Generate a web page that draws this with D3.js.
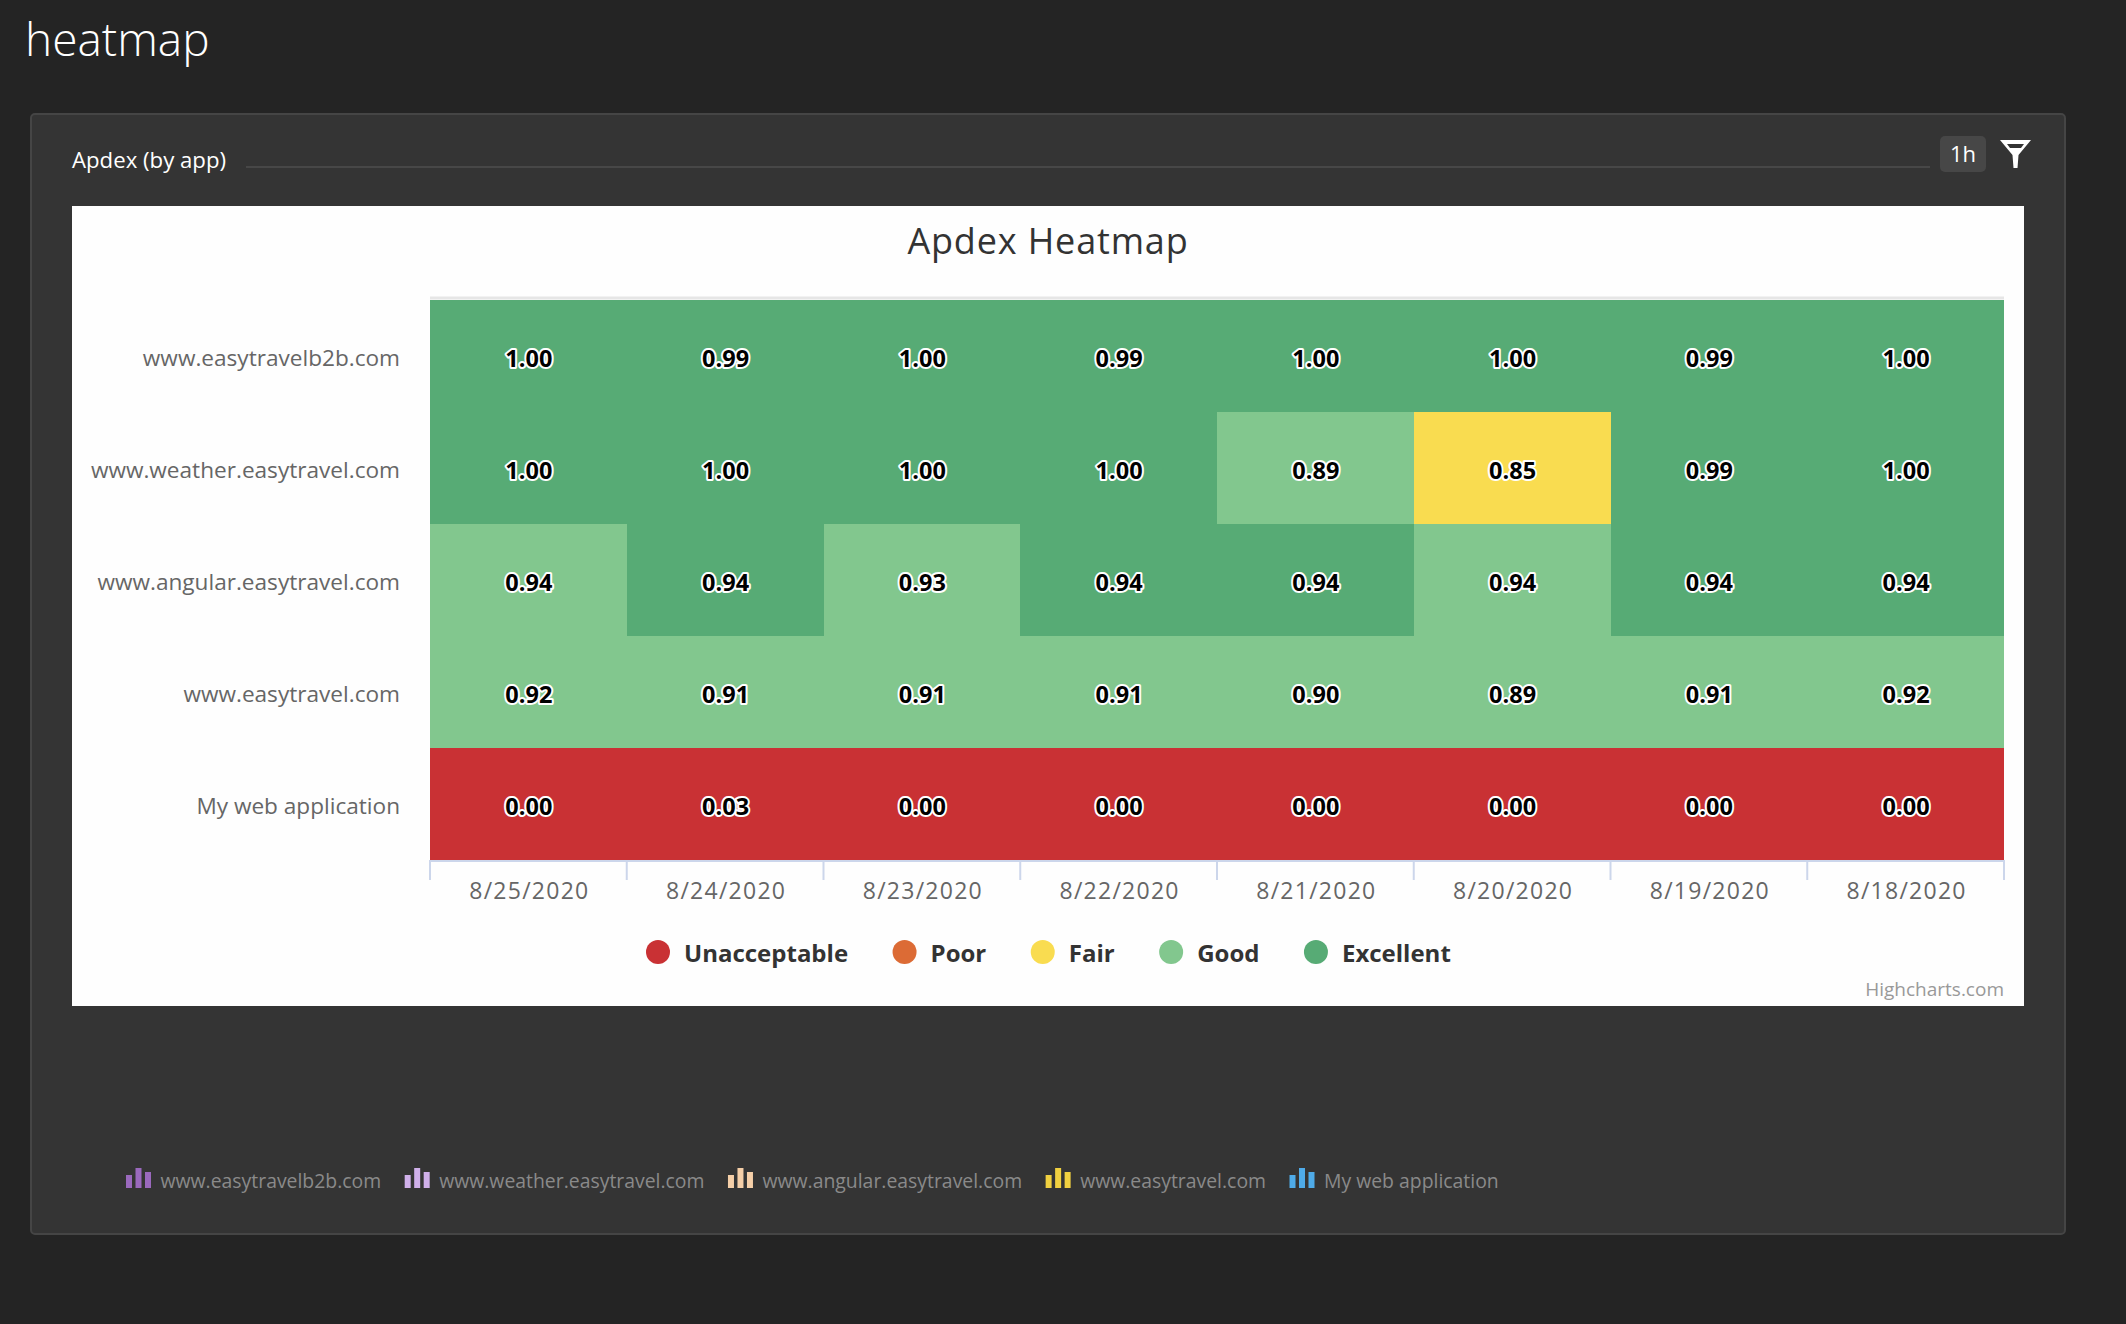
<!DOCTYPE html>
<html>
<head>
<meta charset="utf-8">
<title>heatmap</title>
<script src="https://cdnjs.cloudflare.com/ajax/libs/d3/7.8.5/d3.min.js"></script>
<style>
  html, body { margin: 0; padding: 0; background: #242424; }
  svg { display: block; font-family: "Open Sans", sans-serif; }
</style>
</head>
<body>
<svg id="page" width="2126" height="1324"></svg>
<script>
var apps = ['www.easytravelb2b.com', 'www.weather.easytravel.com', 'www.angular.easytravel.com', 'www.easytravel.com', 'My web application'];
var dates = ['8/25/2020', '8/24/2020', '8/23/2020', '8/22/2020', '8/21/2020', '8/20/2020', '8/19/2020', '8/18/2020'];

// third decimals are estimates: the cell colour tells which side of a class limit a rounded label falls
var easytravelb2b = [1.00, 0.99, 1.00, 0.99, 1.00, 1.00, 0.99, 1.00];
var weather = [1.00, 1.00, 1.00, 1.00, 0.89, 0.849, 0.99, 1.00];
var angular = [0.936, 0.944, 0.93, 0.944, 0.944, 0.936, 0.944, 0.944];
var easytravel = [0.92, 0.91, 0.91, 0.91, 0.90, 0.89, 0.91, 0.92];
var webapp = [0.00, 0.03, 0.00, 0.00, 0.00, 0.00, 0.00, 0.00];
var rows = [easytravelb2b, weather, angular, easytravel, webapp];

var ratings = ['Unacceptable', 'Poor', 'Fair', 'Good', 'Excellent'];
var ratingLimits = [0.5, 0.7, 0.85, 0.94];
var ratingColors = ['#c93134', '#dc6b35', '#f9dc50', '#82c78e', '#57ab75'];
var appColors = ['#9a69bd', '#d0b0ea', '#f5cfa8', '#f0d040', '#4fabe8'];
var iconBars = [13, 20, 16];

var svg = d3.select('#page');

// page and panel
svg.append('text').attr('x', 25).attr('y', 56).attr('fill', '#fff')
    .style('font-size', '46px').style('font-weight', 300).text('heatmap');

svg.append('rect').attr('x', 31).attr('y', 114).attr('width', 2034).attr('height', 1120).attr('rx', 4)
    .attr('fill', '#343434').attr('stroke', '#454545').attr('stroke-width', 2);

svg.append('text').attr('x', 72).attr('y', 168).attr('fill', '#fff')
    .style('font-size', '22.2px').text('Apdex (by app)');
svg.append('line').attr('x1', 246).attr('x2', 1930).attr('y1', 167).attr('y2', 167)
    .attr('stroke', '#474747').attr('stroke-width', 2);

svg.append('rect').attr('x', 1940).attr('y', 136).attr('width', 46).attr('height', 36).attr('rx', 5).attr('fill', '#474747');
svg.append('text').attr('x', 1963).attr('y', 162).attr('text-anchor', 'middle').attr('fill', '#fff')
    .style('font-size', '22px').text('1h');
svg.append('path').attr('fill', '#fff').attr('fill-rule', 'evenodd')
    .attr('d', 'M2000,140H2031L2018.5,155L2017.5,168H2013.5L2012.5,155ZM2007,144L2010,148H2021L2024,144Z');

// chart
svg.append('rect').attr('x', 72).attr('y', 206).attr('width', 1952).attr('height', 800).attr('fill', '#fefefe');
svg.append('text').attr('x', 1048).attr('y', 254).attr('text-anchor', 'middle').attr('fill', '#333')
    .style('font-size', '36px').style('letter-spacing', '0.85px').text('Apdex Heatmap');

var x = d3.scaleBand().domain(dates).range([430, 2004]);
var y = d3.scaleBand().domain(apps).range([300, 860]);
var color = d3.scaleThreshold().domain(ratingLimits).range(ratingColors);

var cells = rows.flatMap(function (row, r) {
    return row.map(function (v, c) {
        return { app: apps[r], date: dates[c], value: v };
    });
});

svg.append('line').attr('x1', 430).attr('x2', 2004).attr('y1', 298).attr('y2', 298)
    .attr('stroke', '#e6e6e6').attr('stroke-width', 3);

svg.append('g').attr('shape-rendering', 'crispEdges')
    .selectAll('rect').data(cells).join('rect')
    .attr('x', function (d) { return x(d.date); })
    .attr('y', function (d) { return y(d.app); })
    .attr('width', x.bandwidth())
    .attr('height', y.bandwidth())
    .attr('fill', function (d) { return color(d.value); });

svg.append('g').selectAll('text').data(cells).join('text')
    .attr('x', function (d) { return x(d.date) + x.bandwidth() / 2 + 0.5; })
    .attr('y', function (d) { return y(d.app) + y.bandwidth() / 2 + 10.5; })
    .attr('text-anchor', 'middle')
    .attr('fill', '#000')
    .attr('stroke', '#fff')
    .attr('stroke-width', 4)
    .attr('stroke-linejoin', 'round')
    .attr('paint-order', 'stroke')
    .style('font-size', '23.5px')
    .style('font-weight', 700)
    .text(function (d) { return d.value.toFixed(2); });

// axes
var xAxis = svg.append('g').attr('transform', 'translate(1,860)')
    .call(d3.axisBottom(x).tickSize(0).tickPadding(23));
xAxis.select('.domain').remove();
xAxis.selectAll('text').attr('fill', '#666').style('font-size', '23px')
    .style('font-family', '"Open Sans", sans-serif').style('letter-spacing', '1.25px');

var edges = dates.map(function (d) { return x(d); }).concat(x.range()[1]);
svg.append('g').selectAll('line').data(edges).join('line')
    .attr('x1', function (d) { return d; }).attr('x2', function (d) { return d; })
    .attr('y1', 860).attr('y2', 880)
    .attr('stroke', '#ccd6eb').attr('stroke-width', 2);
svg.append('line').attr('x1', 429).attr('x2', 2005).attr('y1', 861).attr('y2', 861)
    .attr('stroke', '#ccd6eb').attr('stroke-width', 2);

var yAxis = svg.append('g').attr('transform', 'translate(400,3)')
    .call(d3.axisLeft(y).tickSize(0).tickPadding(0));
yAxis.select('.domain').remove();
yAxis.selectAll('text').attr('fill', '#666').style('font-size', '22.6px')
    .style('font-family', '"Open Sans", sans-serif');

// rating legend
var legendX = 646;
ratings.forEach(function (name, i) {
    svg.append('circle').attr('cx', legendX + 12).attr('cy', 952).attr('r', 12).attr('fill', ratingColors[i]);
    var label = svg.append('text').attr('x', legendX + 38).attr('y', 962).attr('fill', '#333')
        .style('font-size', '24px').style('font-weight', 700).text(name);
    legendX += 38 + label.node().getComputedTextLength() + 44.5;
});

svg.append('text').attr('x', 2004).attr('y', 996).attr('text-anchor', 'end').attr('fill', '#999')
    .style('font-size', '19px').text('Highcharts.com');

// app legend below the chart
var appX = 126;
var barH = d3.scaleLinear().domain([0, 20]).range([0, 20]);
apps.forEach(function (name, i) {
    var icon = svg.append('g').attr('transform', 'translate(' + appX + ',0)');
    icon.selectAll('rect').data(iconBars).join('rect')
        .attr('x', function (d, j) { return j * 9.5; })
        .attr('y', function (d) { return 1188 - barH(d); })
        .attr('width', 6)
        .attr('height', function (d) { return barH(d); })
        .attr('fill', appColors[i]);
    var label = svg.append('text').attr('x', appX + 34.5).attr('y', 1188).attr('fill', '#8a8a8a')
        .style('font-size', '19.4px').text(name);
    appX += 34.5 + label.node().getComputedTextLength() + 23.5;
});
</script>
</body>
</html>
